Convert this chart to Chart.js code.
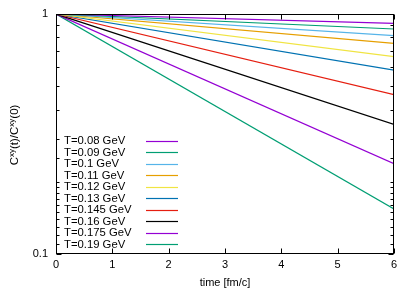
<!DOCTYPE html>
<html><head><meta charset="utf-8">
<script src="https://cdn.jsdelivr.net/npm/chart.js@4/dist/chart.umd.min.js"></script>
<style>html,body{margin:0;padding:0;background:#fff}#wrap{width:415px;height:291px}</style>
</head><body><div id="wrap"><canvas id="c" width="415" height="291"></canvas></div>
<script>
const labels = ['T=0.08 GeV','T=0.09 GeV','T=0.1 GeV','T=0.11 GeV','T=0.12 GeV','T=0.13 GeV','T=0.145 GeV','T=0.16 GeV','T=0.175 GeV','T=0.19 GeV'];
const times = [0, 6];
const endValues = [0.914, 0.866, 0.812, 0.755, 0.664, 0.584, 0.461, 0.347, 0.238, 0.154];
const startValue = 1;
const colors = ['#9400d3','#009e73','#56b4e9','#e69f00','#f0e442','#0072b2','#e51e10','#000000','#9400d3','#009e73'];
const yTickLabels = [0.1, 1];
const xTicks = [0,1,2,3,4,5,6];
const FONT = '"Liberation Sans", Arial, sans-serif';

const datasets = labels.map((l,i)=>({
  label:l,
  data:[{x:times[0],y:startValue},{x:times[1],y:endValues[i]}],
  borderColor:colors[i], borderWidth:1.2, pointRadius:0, fill:false, tension:0
}));

const framePlugin = {
  id:'frame',
  afterDatasetsDraw(chart){
    const {ctx, chartArea:a, scales:{x,y}} = chart;
    ctx.save();
    ctx.strokeStyle='#000'; ctx.lineWidth=1;
    const L=Math.round(a.left)+0.5, R=Math.round(a.right)-0.5, T=Math.round(a.top)+0.5, B=Math.round(a.bottom)-0.5;
    ctx.beginPath();
    xTicks.forEach(v=>{const px=Math.round(x.getPixelForValue(v))+0.5; ctx.moveTo(px,B); ctx.lineTo(px,B-5); ctx.moveTo(px,T); ctx.lineTo(px,T+5);});
    y.ticks.forEach(t=>{const v=t.value; const major = yTickLabels.some(m=>Math.abs(m-v)<1e-9); const len=major?5:3;
      const py=Math.round(y.getPixelForValue(v))+0.5; ctx.moveTo(L,py); ctx.lineTo(L+len,py); ctx.moveTo(R,py); ctx.lineTo(R-len,py);});
    ctx.stroke();
    ctx.strokeRect(L,T,R-L,B-T);
    // legend
    ctx.font='11.3px '+FONT; ctx.fillStyle='#000'; ctx.textBaseline='middle'; ctx.textAlign='left';
    labels.forEach((l,i)=>{
      const cy=140.5+i*11.53;
      ctx.fillText(l,64,cy+0.5);
      ctx.beginPath(); ctx.strokeStyle=colors[i]; ctx.lineWidth=1.2;
      ctx.moveTo(146,Math.round(cy)+0.5); ctx.lineTo(178,Math.round(cy)+0.5); ctx.stroke();
    });
    // x title
    ctx.fillStyle='#000'; ctx.textAlign='center'; ctx.font='11px '+FONT;
    ctx.fillText('time [fm/c]', (a.left+a.right)/2, 283);
    // y title with superscripts
    const parts=[['C',0],['xy',1],['(t)/C',0],['xy',1],['(0)',0]];
    const fN='11.5px '+FONT, fS='8px '+FONT;
    let w=0; parts.forEach(p=>{ctx.font=p[1]?fS:fN; w+=ctx.measureText(p[0]).width;});
    ctx.translate(14,135); ctx.rotate(-Math.PI/2);
    ctx.textAlign='left'; ctx.textBaseline='alphabetic';
    let cx=-w/2;
    parts.forEach(p=>{ctx.font=p[1]?fS:fN; ctx.fillText(p[0],cx,p[1]?0:4); cx+=ctx.measureText(p[0]).width;});
    ctx.restore();
  }
};

new Chart(document.getElementById('c'),{
  type:'line',
  data:{datasets},
  options:{
    responsive:false, animation:false,
    layout:{padding:{left:0,right:21,top:14,bottom:0}},
    plugins:{legend:{display:false},tooltip:{enabled:false}},
    scales:{
      x:{type:'linear',min:0,max:6,
        grid:{display:false}, border:{display:false},
        ticks:{stepSize:1,padding:-4,color:'#000',font:{family:FONT,size:11},maxRotation:0,autoSkip:false},
        afterFit(s){s.height=37;}},
      y:{type:'logarithmic',min:0.1,max:1,
        grid:{display:false}, border:{display:false},
        ticks:{padding:0,color:'#000',font:{family:FONT,size:11},autoSkip:false,
          callback(v){return yTickLabels.some(m=>Math.abs(m-v)<1e-9)? String(v):'';}},
        afterFit(s){s.width=56;}}
    }
  },
  plugins:[framePlugin]
});
</script></body></html>
